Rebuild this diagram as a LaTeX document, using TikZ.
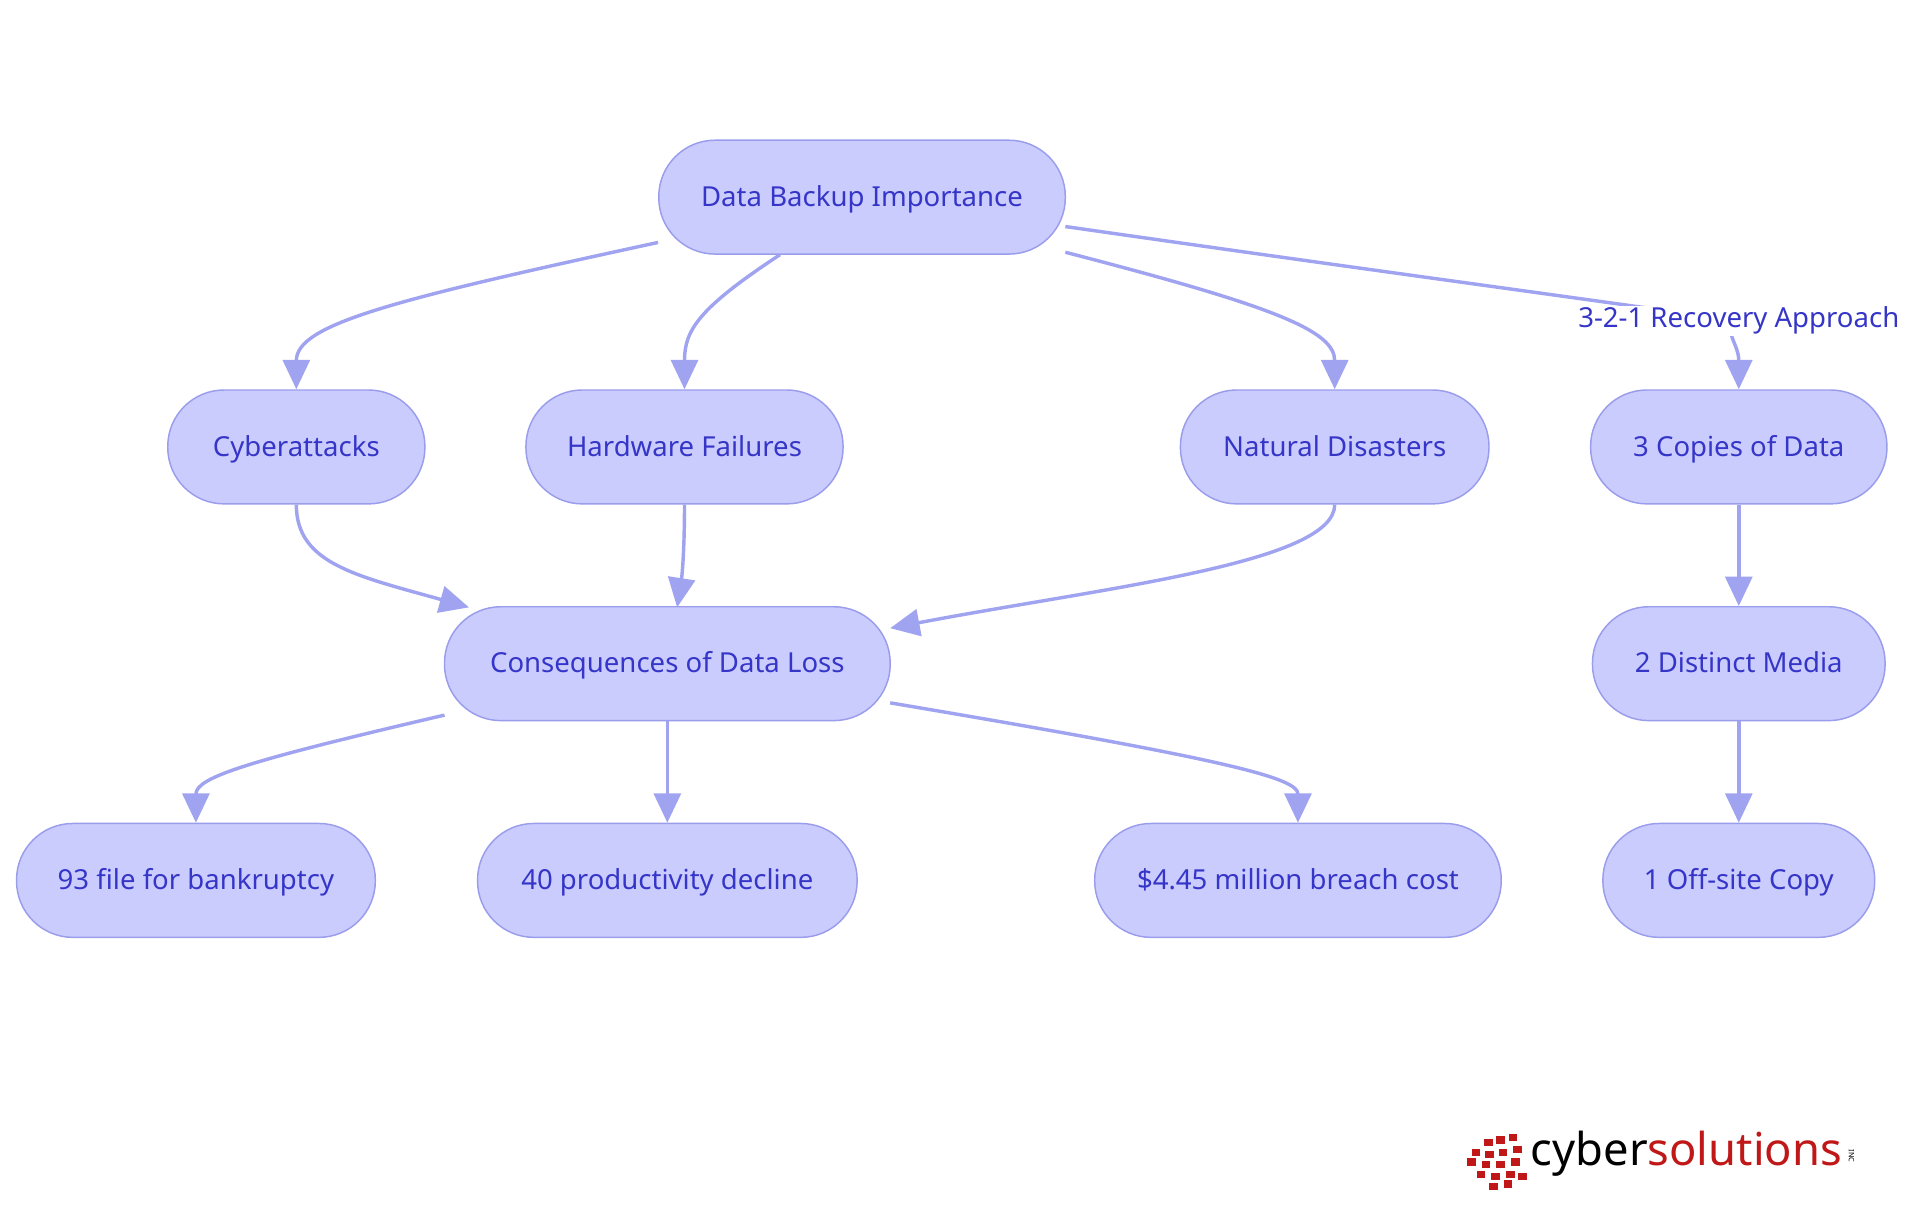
\documentclass[tikz,border=0pt]{standalone}
\usepackage{fontspec}
\setmainfont{Noto Sans}
\usetikzlibrary{arrows.meta}
\definecolor{nfill}{HTML}{CBCCFE}
\definecolor{nline}{HTML}{9A9DEB}
\definecolor{ntext}{HTML}{3535C8}
\definecolor{eline}{HTML}{A0A3F0}
\definecolor{logored}{HTML}{C01818}
\begin{document}
\begin{tikzpicture}[x=1pt,y=-1pt,
  box/.style={draw=nline,fill=nfill,line width=1.2pt,rounded corners=46pt,minimum height=93pt,text=ntext,font=\fontsize{22.5}{26}\selectfont,inner sep=0pt,text depth=0pt,text height=15pt},
  edge/.style={draw=eline,line width=2.8pt,-{Triangle[length=24pt,width=22pt]}}]
\useasboundingbox (0,0) rectangle (1568,992);
\node[box,minimum width=332pt] (root) at (704,161) {Data Backup Importance};
\node[box,minimum width=210pt] (cyb) at (242,365) {Cyberattacks};
\node[box,minimum width=259pt] (hw) at (559,365) {Hardware Failures};
\node[box,minimum width=252pt] (nat) at (1090,365) {Natural Disasters};
\node[box,minimum width=242pt] (c3) at (1420,365) {3 Copies of Data};
\node[box,minimum width=364pt] (cons) at (545,542) {Consequences of Data Loss};
\node[box,minimum width=239pt] (m2) at (1420,542) {2 Distinct Media};
\node[box,minimum width=293pt] (b93) at (160,719) {93 file for bankruptcy};
\node[box,minimum width=310pt] (p40) at (545,719) {40 productivity decline};
\node[box,minimum width=332pt] (cost) at (1060,719) {\$4.45 million breach cost};
\node[box,minimum width=222pt] (off) at (1420,719) {1 Off-site Copy};
\coordinate (lab) at (1420,262);
\draw[edge] (root.west |- 0,198) .. controls (320,245) and (242,265) .. (cyb.north);
\draw[edge] (637,208) .. controls (570,252) and (559,270) .. (hw.north);
\draw[edge] (870,206) .. controls (1040,250) and (1090,270) .. (nat.north);
\draw[draw=eline,line width=2.8pt] (870,185) .. controls (1100,218) and (1250,238) .. (lab);
\draw[edge] (lab) .. controls (1405,268) and (1420,280) .. (c3.north);
\node[fill=white,text=ntext,font=\fontsize{22.5}{26}\selectfont,inner sep=1pt] at (lab) {3-2-1 Recovery Approach};
\draw[edge] (cyb.south) .. controls (242,460) and (290,470) .. (383,496);
\draw[edge] (hw.south) .. controls (559,450) and (557,470) .. (553,496);
\draw[edge] (nat.south) .. controls (1090,460) and (900,480) .. (727,513);
\draw[edge] (c3.south) -- (m2.north);
\draw[edge] (m2.south) -- (off.north);
\draw[edge] (363,584) .. controls (200,622) and (160,635) .. (b93.north);
\draw[edge] (cons.south) -- (p40.north);
\draw[edge] (727,574) .. controls (1000,620) and (1060,635) .. (cost.north);
% logo
\foreach \x/\y in {1212/930,1222/928,1232/926,1202/938,1213/940,1224/938,1236/936,1198/946,1210/948,1222/948,1234/946,1206/956,1218/958,1230/956,1216/966,1228/964,1240/958}
  \fill[logored] (\x,\y) rectangle ++(7,6);
\node[anchor=west,inner sep=0pt,font=\fontsize{37}{40}\selectfont] (logo) at (1250,942) {\textcolor{black}{cyber}\textcolor{logored}{solutions}};
\node[inner sep=0pt,font=\fontsize{6}{7}\selectfont,rotate=-90] at (1512,944) {INC};
\end{tikzpicture}
\end{document}
